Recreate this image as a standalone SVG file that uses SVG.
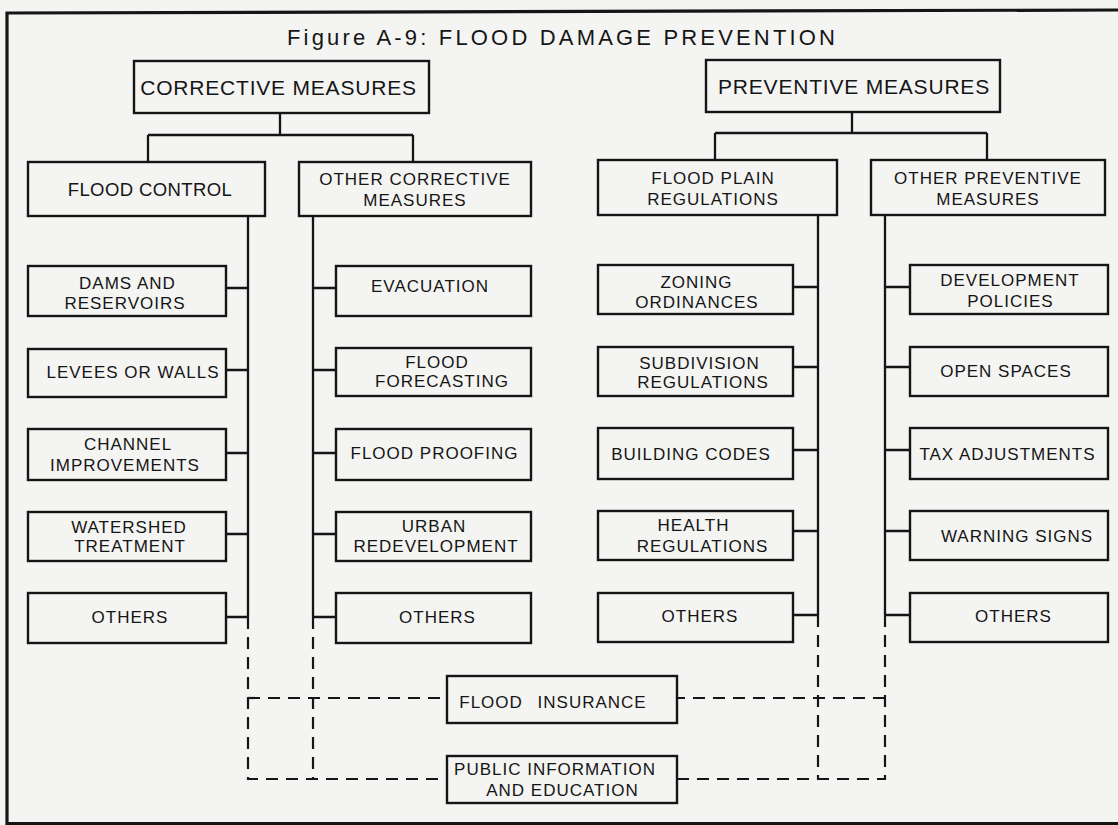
<svg xmlns="http://www.w3.org/2000/svg" width="1118" height="825" viewBox="0 0 1118 825">
<style>
  .bg { fill: #f4f4f2; }
  .frame { fill: none; stroke: #151515; stroke-width: 3.2; stroke-linejoin: miter; }
  .box { fill: none; stroke: #151515; stroke-width: 2.4; }
  .ln { fill: none; stroke: #151515; stroke-width: 2.3; }
  .dash { fill: none; stroke: #151515; stroke-width: 2.2; stroke-dasharray: 12 8; }
  text { font-family: "Liberation Sans", Arial, sans-serif; fill: #151515; text-anchor: middle; }
  .title { font-size: 22px; text-anchor: start; }
  .t1 { font-size: 21px; letter-spacing: 0.8px; }
  .t2 { font-size: 18.5px; letter-spacing: 0.4px; }
  .t3 { font-size: 17px; letter-spacing: 1px; }
</style>
<rect class="bg" x="0" y="0" width="1118" height="825"/>
<path class="frame" d="M1118 10 L7 13 L7 823.5 L1118 823.5"/>
<text class="title" x="287" y="45" textLength="548" lengthAdjust="spacing">Figure A-9: FLOOD DAMAGE PREVENTION</text>

<g id="connectors">
  <path class="ln" d="M280 113 V135 M148 135 H413 M148 135 V162 M413 135 V162"/>
  <path class="ln" d="M852 112 V133 M715 133 H987 M715 133 V160 M987 133 V160"/>
  <path class="ln" d="M248 216 V617 M313 216 V617 M818 215 V615 M885 215 V615"/>
  <path class="ln" d="M226 288 H248 M226 370 H248 M226 453 H248 M226 534 H248 M226 617 H248"/>
  <path class="ln" d="M313 288 H336 M313 370 H336 M313 453 H336 M313 534 H336 M313 617 H336"/>
  <path class="ln" d="M793 287 H818 M793 367 H818 M793 450 H818 M793 531 H818 M793 615 H818"/>
  <path class="ln" d="M885 287 H910 M885 367 H910 M885 450 H910 M885 531 H910 M885 615 H910"/>
  <path class="dash" d="M248 617 V779 H447"/>
  <path class="dash" d="M313 617 V779"/>
  <path class="dash" d="M248 698 H447"/>
  <path class="dash" d="M885 615 V779 H677"/>
  <path class="dash" d="M818 615 V779"/>
  <path class="dash" d="M885 698 H677"/>
</g>

<g id="n-corrective"><rect class="box" x="134" y="61" width="295" height="52"/><text class="t1" x="278.5" y="95">CORRECTIVE MEASURES</text></g>
<g id="n-preventive"><rect class="box" x="706" y="60" width="294" height="52"/><text class="t1" x="854" y="94">PREVENTIVE MEASURES</text></g>

<g id="n-flood-control"><rect class="box" x="28" y="162" width="237" height="54"/><text class="t2" x="150" y="196">FLOOD CONTROL</text></g>
<g id="n-other-corrective"><rect class="box" x="299" y="162" width="232" height="54"/><text class="t3" x="415" y="185">OTHER CORRECTIVE</text><text class="t3" x="415" y="206">MEASURES</text></g>
<g id="n-flood-plain"><rect class="box" x="598" y="160" width="239" height="55"/><text class="t3" x="713" y="184">FLOOD PLAIN</text><text class="t3" x="713" y="205">REGULATIONS</text></g>
<g id="n-other-preventive"><rect class="box" x="871" y="160" width="234" height="55"/><text class="t3" x="988" y="184">OTHER PREVENTIVE</text><text class="t3" x="988" y="205">MEASURES</text></g>

<g id="n-dams"><rect class="box" x="28" y="266" width="198" height="50"/><text class="t3" x="127.5" y="289">DAMS AND</text><text class="t3" x="125" y="309">RESERVOIRS</text></g>
<g id="n-levees"><rect class="box" x="28" y="349" width="198" height="48"/><text class="t3" x="133" y="378">LEVEES OR WALLS</text></g>
<g id="n-channel"><rect class="box" x="28" y="429" width="198" height="51"/><text class="t3" x="128" y="450">CHANNEL</text><text class="t3" x="125" y="471">IMPROVEMENTS</text></g>
<g id="n-watershed"><rect class="box" x="28" y="512" width="198" height="49"/><text class="t3" x="129" y="533">WATERSHED</text><text class="t3" x="130" y="552">TREATMENT</text></g>
<g id="n-others-1"><rect class="box" x="28" y="593" width="198" height="50"/><text class="t3" x="130" y="623">OTHERS</text></g>

<g id="n-evacuation"><rect class="box" x="336" y="266" width="195" height="50"/><text class="t3" x="430" y="292">EVACUATION</text></g>
<g id="n-forecasting"><rect class="box" x="336" y="348" width="195" height="48"/><text class="t3" x="437" y="368">FLOOD</text><text class="t3" x="442" y="387">FORECASTING</text></g>
<g id="n-proofing"><rect class="box" x="336" y="429" width="195" height="51"/><text class="t3" x="434.5" y="459">FLOOD PROOFING</text></g>
<g id="n-urban"><rect class="box" x="336" y="512" width="195" height="49"/><text class="t3" x="434" y="532">URBAN</text><text class="t3" x="436" y="552">REDEVELOPMENT</text></g>
<g id="n-others-2"><rect class="box" x="336" y="593" width="195" height="50"/><text class="t3" x="437.5" y="623">OTHERS</text></g>

<g id="n-zoning"><rect class="box" x="598" y="265" width="195" height="49"/><text class="t3" x="696.5" y="288">ZONING</text><text class="t3" x="697" y="308">ORDINANCES</text></g>
<g id="n-subdivision"><rect class="box" x="598" y="347" width="195" height="49"/><text class="t3" x="699.5" y="369">SUBDIVISION</text><text class="t3" x="703" y="388">REGULATIONS</text></g>
<g id="n-building"><rect class="box" x="598" y="428" width="195" height="51"/><text class="t3" x="691" y="460">BUILDING CODES</text></g>
<g id="n-health"><rect class="box" x="598" y="511" width="195" height="49"/><text class="t3" x="693.5" y="531">HEALTH</text><text class="t3" x="702.5" y="552">REGULATIONS</text></g>
<g id="n-others-3"><rect class="box" x="598" y="593" width="195" height="49"/><text class="t3" x="700" y="622">OTHERS</text></g>

<g id="n-development"><rect class="box" x="910" y="265" width="198" height="49"/><text class="t3" x="1010" y="286">DEVELOPMENT</text><text class="t3" x="1010.5" y="307">POLICIES</text></g>
<g id="n-open"><rect class="box" x="910" y="347" width="198" height="49"/><text class="t3" x="1006" y="377">OPEN SPACES</text></g>
<g id="n-tax"><rect class="box" x="910" y="428" width="198" height="51"/><text class="t3" x="1007.5" y="460">TAX ADJUSTMENTS</text></g>
<g id="n-warning"><rect class="box" x="910" y="511" width="198" height="49"/><text class="t3" x="1017" y="542">WARNING SIGNS</text></g>
<g id="n-others-4"><rect class="box" x="910" y="593" width="198" height="49"/><text class="t3" x="1013.5" y="622">OTHERS</text></g>

<g id="n-insurance"><rect class="box" x="447" y="676" width="230" height="47"/><text class="t3" x="553" y="708" word-spacing="9">FLOOD INSURANCE</text></g>
<g id="n-public"><rect class="box" x="447" y="756" width="230" height="47"/><text class="t3" x="555" y="775">PUBLIC INFORMATION</text><text class="t3" x="562.5" y="796">AND EDUCATION</text></g>
</svg>
